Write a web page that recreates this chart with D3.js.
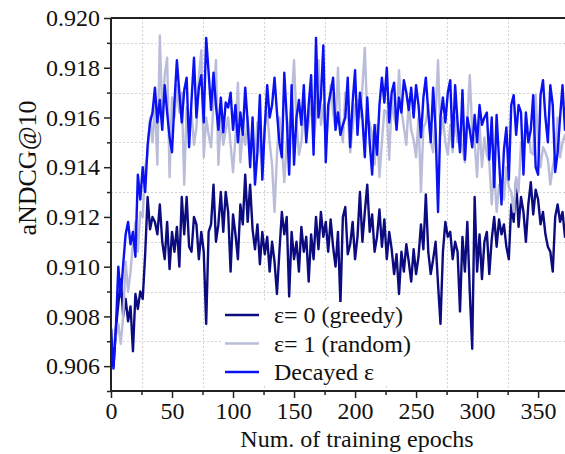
<!DOCTYPE html>
<html><head><meta charset="utf-8">
<script src="https://cdn.jsdelivr.net/npm/d3@7"></script>
<style>
html,body{margin:0;padding:0;background:#fff;}
svg{display:block;}
svg text{font-family:"Liberation Serif","Times New Roman",Times,serif !important;}
</style></head>
<body>
<svg id="chart" width="565" height="454"></svg>
<script>
// Series values sampled every 2 epochs (epoch 0..374)
const greedy = [
0.9075,0.9060,0.9075,0.9085,0.9095,0.9080,0.9087,0.9078,0.9084,0.9066,
0.9089,0.9083,0.9090,0.9087,0.9105,0.9128,0.9115,0.9120,0.9118,0.9113,
0.9125,0.9110,0.9103,0.9118,0.9099,0.9114,0.9106,0.9116,0.9100,0.9128,
0.9113,0.9128,0.9108,0.9106,0.9120,0.9117,0.9103,0.9114,0.9106,0.9077,
0.9114,0.9117,0.9133,0.9110,0.9117,0.9130,0.9114,0.9130,
0.9122,0.9098,0.9121,0.9113,0.9103,0.9125,0.9117,0.9137,0.9118,0.9133,
0.9115,0.9107,0.9117,0.9101,0.9114,0.9105,0.9112,0.9098,0.9110,0.9102,
0.9089,0.9106,0.9122,0.9113,0.9120,0.9088,0.9114,0.9103,0.9110,0.9098,
0.9116,0.9106,0.9112,0.9094,0.9113,0.9103,0.9120,0.9107,0.9122,0.9112,
0.9118,0.9106,0.9119,0.9108,0.9100,0.9114,0.9085,0.9120,
0.9124,0.9105,0.9109,0.9118,0.9103,0.9112,0.9130,0.9110,0.9122,0.9133,
0.9114,0.9121,0.9106,0.9112,0.9123,0.9108,0.9119,0.9103,0.9114,0.9107,
0.9097,0.9105,0.9089,0.9106,0.9098,0.9109,0.9102,0.9094,0.9107,0.9097,
0.9104,0.9117,0.9107,0.9129,0.9106,0.9097,0.9103,0.9110,0.9093,0.9077,
0.9106,0.9118,0.9112,0.9114,0.9103,
0.9110,0.9106,0.9082,0.9112,0.9098,0.9118,0.9090,0.9067,0.9128,0.9098,
0.9113,0.9095,0.9110,0.9114,0.9097,0.9111,0.9120,0.9108,0.9119,0.9113,
0.9117,0.9108,0.9103,0.9125,0.9118,0.9135,0.9116,0.9128,0.9122,0.9110,
0.9125,0.9134,0.9121,0.9131,0.9127,0.9117,0.9122,0.9113,0.9108,0.9106,
0.9098,0.9120,0.9125,0.9118,0.9122,0.9112,0.9115
];
const random = [
0.9075,0.9068,0.9072,0.9077,0.9069,0.9080,0.9102,0.9090,0.9098,0.9110,
0.9118,0.9106,0.9122,0.9120,0.9140,0.9145,0.9160,0.9150,0.9166,0.9141,
0.9193,0.9160,0.9177,0.9184,0.9136,0.9168,0.9160,0.9173,0.9162,0.9170,
0.9133,0.9164,0.9153,0.9162,0.9149,0.9156,0.9176,0.9187,0.9144,0.9160,
0.9153,0.9148,0.9166,0.9183,0.9141,0.9160,0.9149,0.9155,
0.9160,0.9149,0.9138,0.9152,0.9174,0.9142,0.9155,0.9149,0.9160,0.9145,
0.9153,0.9144,0.9158,0.9148,0.9140,0.9156,0.9162,0.9150,0.9141,0.9122,
0.9145,0.9160,0.9148,0.9134,0.9150,0.9156,0.9166,0.9183,0.9158,0.9145,
0.9150,0.9163,0.9152,0.9158,0.9167,0.9150,0.9160,0.9183,0.9157,0.9165,
0.9150,0.9160,0.9173,0.9162,0.9155,0.9180,0.9156,0.9150,
0.9170,0.9162,0.9146,0.9156,0.9165,0.9167,0.9160,0.9172,0.9188,0.9160,
0.9158,0.9153,0.9141,0.9157,0.9136,0.9150,0.9163,0.9162,0.9143,0.9168,
0.9160,0.9156,0.9179,0.9163,0.9156,0.9149,0.9166,0.9155,0.9151,0.9144,
0.9160,0.9130,0.9156,0.9158,0.9165,0.9150,0.9146,0.9160,0.9183,0.9153,
0.9160,0.9150,0.9145,0.9157,0.9146,
0.9160,0.9150,0.9153,0.9148,0.9142,0.9158,0.9177,0.9155,0.9150,0.9136,
0.9158,0.9140,0.9152,0.9145,0.9142,0.9125,0.9140,0.9122,0.9133,0.9128,
0.9127,0.9140,0.9132,0.9130,0.9122,0.9136,0.9130,0.9150,0.9145,0.9160,
0.9155,0.9146,0.9145,0.9169,0.9150,0.9140,0.9148,0.9146,0.9143,0.9133,
0.9140,0.9145,0.9160,0.9144,0.9150,0.9153,0.9148
];
const decayed = [
0.9075,0.9059,0.9075,0.9100,0.9088,0.9101,0.9113,0.9118,0.9109,0.9114,
0.9104,0.9137,0.9127,0.9140,0.9130,0.9149,0.9158,0.9162,0.9172,0.9158,
0.9167,0.9155,0.9173,0.9162,0.9152,0.9146,0.9166,0.9183,0.9170,0.9158,
0.9171,0.9176,0.9148,0.9167,0.9184,0.9160,0.9172,0.9177,0.9158,0.9192,
0.9178,0.9163,0.9178,0.9165,0.9155,0.9168,0.9154,0.9166,
0.9164,0.9170,0.9155,0.9165,0.9150,0.9162,0.9153,0.9172,0.9158,0.9140,
0.9160,0.9133,0.9146,0.9169,0.9135,0.9156,0.9173,0.9160,0.9165,0.9176,
0.9162,0.9150,0.9144,0.9178,0.9160,0.9137,0.9173,0.9141,0.9160,0.9167,
0.9157,0.9173,0.9150,0.9165,0.9177,0.9145,0.9192,0.9160,0.9168,0.9189,
0.9142,0.9165,0.9170,0.9176,0.9155,0.9162,0.9153,0.9157,
0.9160,0.9176,0.9148,0.9166,0.9179,0.9153,0.9170,0.9160,0.9144,0.9168,
0.9150,0.9137,0.9157,0.9145,0.9165,0.9176,0.9166,0.9180,0.9158,0.9170,
0.9174,0.9155,0.9168,0.9162,0.9175,0.9170,0.9163,0.9172,0.9160,0.9173,
0.9165,0.9152,0.9168,0.9176,0.9162,0.9150,0.9172,0.9155,0.9122,0.9160,
0.9168,0.9158,0.9170,0.9175,0.9148,
0.9173,0.9158,0.9146,0.9171,0.9143,0.9160,0.9155,0.9148,0.9161,0.9150,
0.9165,0.9157,0.9160,0.9162,0.9143,0.9160,0.9132,0.9161,0.9143,0.9125,
0.9147,0.9156,0.9135,0.9165,0.9169,0.9153,0.9165,0.9162,0.9137,0.9162,
0.9150,0.9155,0.9169,0.9140,0.9137,0.9169,0.9175,0.9160,0.9150,0.9173,
0.9165,0.9138,0.9146,0.9160,0.9173,0.9155,0.9165
];
const epochs = greedy.map((_, i) => i * 2);
const xTicks = [0, 50, 100, 150, 200, 250, 300, 350];
const yTicks = [0.906, 0.908, 0.910, 0.912, 0.914, 0.916, 0.918, 0.920];
const seriesNames = ["\u03b5= 0 (greedy)", "\u03b5= 1 (random)", "Decayed \u03b5"];
const seriesColors = ["#0c0c80", "#babdda", "#0a12f2"];

const svg = d3.select("#chart");
const L = 111, T = 18, B = 391;
const x = d3.scaleLinear().domain([0, 375]).range([L, L + 375 * 1.2203]);
const y = d3.scaleLinear().domain([0.905, 0.920]).range([B, T]);
const R = 565;

// grid at minor positions
const gx = d3.range(25, 376, 50);
const gy = [0.907, 0.909, 0.911, 0.913, 0.915, 0.917, 0.919];
const grid = svg.append("g").attr("stroke", "#d4d4d4").attr("stroke-width", 1).attr("stroke-dasharray", "2,2");
gx.forEach(v => grid.append("line").attr("x1", Math.round(x(v)) + 0.5).attr("x2", Math.round(x(v)) + 0.5).attr("y1", T).attr("y2", B));
gy.forEach(v => grid.append("line").attr("x1", L).attr("x2", R).attr("y1", Math.round(y(v)) + 0.5).attr("y2", Math.round(y(v)) + 0.5));

svg.append("clipPath").attr("id", "clip").append("rect").attr("x", L).attr("y", T).attr("width", R - L).attr("height", B - T);

const line = d3.line().x((d, i) => x(epochs[i])).y(d => y(d));
const gLines = svg.append("g").attr("clip-path", "url(#clip)");
[greedy, random, decayed].forEach((s, k) => {
  gLines.append("path").datum(s).attr("d", line).attr("fill", "none")
    .attr("stroke", seriesColors[k]).attr("stroke-width", 2.4).attr("stroke-linejoin", "round");
});

// axes
const xAxis = d3.axisBottom(x).tickValues(xTicks).tickSize(7).tickPadding(4).tickFormat(d3.format("d"));
const gX = svg.append("g").attr("transform", `translate(0,${B})`).call(xAxis);
gX.select(".domain").remove();
svg.append("g").attr("transform", `translate(0,${B})`)
  .call(d3.axisBottom(x).tickValues(d3.range(25, 376, 50)).tickSize(4).tickFormat(""))
  .select(".domain").remove();
const yAxis = d3.axisLeft(y).tickValues(yTicks).tickSize(7).tickPadding(4).tickFormat(d3.format(".3f"));
const gY = svg.append("g").attr("transform", `translate(${L},0)`).call(yAxis);
gY.select(".domain").remove();
svg.append("g").attr("transform", `translate(${L},0)`)
  .call(d3.axisLeft(y).tickValues([0.905, 0.907, 0.909, 0.911, 0.913, 0.915, 0.917, 0.919]).tickSize(4).tickFormat(""))
  .select(".domain").remove();
svg.selectAll("g").attr("font-family", null);
svg.selectAll(".tick line").attr("stroke", "#222").attr("stroke-width", 1.5);
svg.selectAll(".tick text").attr("font-size", 24).attr("fill", "#111");

// frame lines
svg.append("line").attr("x1", L).attr("x2", L).attr("y1", T).attr("y2", B + 0.5).attr("stroke", "#222").attr("stroke-width", 2);
svg.append("line").attr("x1", L).attr("x2", R).attr("y1", B).attr("y2", B).attr("stroke", "#222").attr("stroke-width", 2);
svg.append("line").attr("x1", L).attr("x2", R).attr("y1", T).attr("y2", T).attr("stroke", "#222").attr("stroke-width", 2);

// titles
svg.append("text").attr("x", 357).attr("y", 447).attr("text-anchor", "middle")
  .attr("font-size", 24).attr("fill", "#111").text("Num. of training epochs");
svg.append("text").attr("transform", "translate(36,168) rotate(-90)").attr("text-anchor", "middle")
  .attr("font-size", 26).attr("fill", "#111").text("aNDCG@10");

// legend
const lg = svg.append("g");
lg.append("rect").attr("x", 222).attr("y", 302).attr("width", 192).attr("height", 84).attr("fill", "#fff");
seriesNames.forEach((n, k) => {
  const ly = 315 + k * 28.5;
  lg.append("line").attr("x1", 225).attr("x2", 259).attr("y1", ly).attr("y2", ly)
    .attr("stroke", seriesColors[k]).attr("stroke-width", 2.4);
  lg.append("text").attr("x", 274).attr("y", ly).attr("dy", "0.35em")
    .attr("font-size", 24).attr("fill", "#111").text(n);
});
</script>
</body></html>
